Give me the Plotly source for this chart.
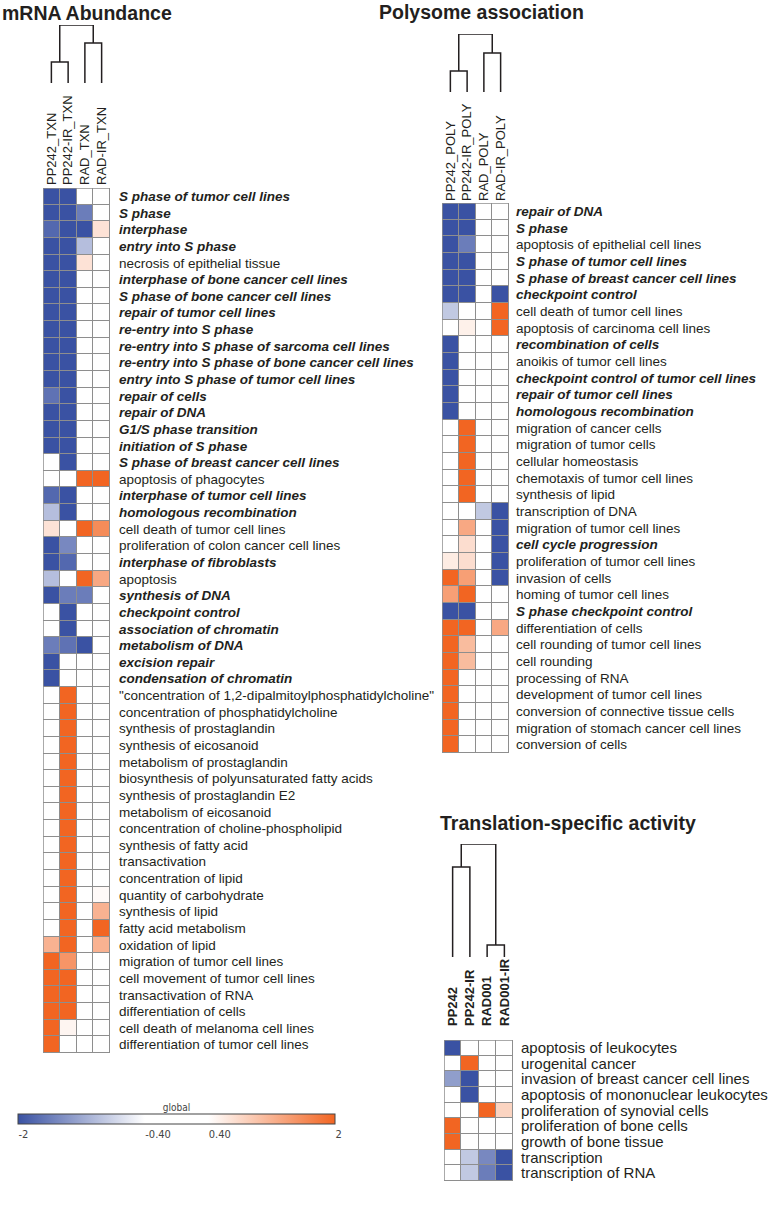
import plotly.graph_objects as go

W, H = 775, 1213

# ---------------- DATA ----------------
mrna_cols = ["PP242_TXN", "PP242-IR_TXN", "RAD_TXN", "RAD-IR_TXN"]
mrna_rows = [
    "S phase of tumor cell lines", "S phase", "interphase", "entry into S phase",
    "necrosis of epithelial tissue", "interphase of bone cancer cell lines",
    "S phase of bone cancer cell lines", "repair of tumor cell lines", "re-entry into S phase",
    "re-entry into S phase of sarcoma cell lines", "re-entry into S phase of bone cancer cell lines",
    "entry into S phase of tumor cell lines", "repair of cells", "repair of DNA",
    "G1/S phase transition", "initiation of S phase", "S phase of breast cancer cell lines",
    "apoptosis of phagocytes", "interphase of tumor cell lines", "homologous recombination",
    "cell death of tumor cell lines", "proliferation of colon cancer cell lines",
    "interphase of fibroblasts", "apoptosis", "synthesis of DNA", "checkpoint control",
    "association of chromatin", "metabolism of DNA", "excision repair", "condensation of chromatin",
    "\"concentration of 1,2-dipalmitoylphosphatidylcholine\"", "concentration of phosphatidylcholine",
    "synthesis of prostaglandin", "synthesis of eicosanoid", "metabolism of prostaglandin",
    "biosynthesis of polyunsaturated fatty acids", "synthesis of prostaglandin E2",
    "metabolism of eicosanoid", "concentration of choline-phospholipid", "synthesis of fatty acid",
    "transactivation", "concentration of lipid", "quantity of carbohydrate", "synthesis of lipid",
    "fatty acid metabolism", "oxidation of lipid", "migration of tumor cell lines",
    "cell movement of tumor cell lines", "transactivation of RNA", "differentiation of cells",
    "cell death of melanoma cell lines", "differentiation of tumor cell lines",
]
mrna_bold = [1, 1, 1, 1, 0, 1, 1, 1, 1, 1, 1, 1, 1, 1, 1, 1, 1, 0, 1, 1, 0, 0, 1, 0, 1, 1, 1, 1, 1, 1,
             0, 0, 0, 0, 0, 0, 0, 0, 0, 0, 0, 0, 0, 0, 0, 0, 0, 0, 0, 0, 0, 0]
mrna_pp242 = [-2.6, -2.5, -1.8, -2.4, -2.3, -2.4, -2.4, -2.3, -2.2, -2.2, -2.2, -2.3, -1.7, -2.2,
              -2.1, -2.0, 0, 0, -1.8, -1.0, 0.7, -2.1, -2.2, -1.0, -2.0, 0, 0, -1.6, -2.0, -2.0,
              0, 0, 0, 0, 0, 0, 0, 0, 0, 0, 0, 0, 0, 0, 0, 1.2, 2.2, 2.1, 2.0, 2.1, 2.1, 2.0]
mrna_pp242ir = [-2.4, -2.3, -2.2, -2.2, -2.1, -2.2, -2.2, -2.3, -2.1, -2.0, -2.0, -2.2, -2.2, -2.3,
                -2.1, -2.1, -2.0, 0, -2.1, -2.0, 0, -1.5, -1.8, 0, -1.6, -2.1, -2.0, -1.7, 0, 0,
                2.2, 2.1, 2.1, 2.2, 2.0, 2.1, 2.0, 2.1, 2.0, 2.1, 2.0, 2.1, 2.1, 2.1, 2.0, 2.1,
                1.5, 2.0, 2.0, 2.0, 0.5, 0]
mrna_rad = [0, -1.6, -2.0, -1.0, 0.7, 0, 0, 0, 0, 0, 0, 0, 0, 0, 0, 0, 0, 2.2, 0, 0, 2.1, 0, 0,
            2.0, -1.6, 0, 0, -2.0, 0, 0, 0, 0, 0, 0, 0, 0, 0, 0, 0, 0, 0, 0, 0, 0, 0, 0, 0, 0,
            0, 0, 0, 0]
mrna_radir = [0, 0, 0.7, 0, 0, 0, 0, 0, 0, 0, 0, 0, 0, 0, 0, 0, 0, 2.1, 0, 0, 1.6, 0, 0, 1.3, 0,
              0, 0, 0, 0, 0, 0, 0, 0, 0, 0, 0, 0, 0, 0, 0, 0, 0, 0.45, 1.2, 2.1, 1.2, 0, 0, 0, 0,
              0, 0]
mrna_links = [21, 40, 58]   # PP242 pair, RAD pair, root

poly_cols = ["PP242_POLY", "PP242-IR_POLY", "RAD_POLY", "RAD-IR_POLY"]
poly_rows = [
    "repair of DNA", "S phase", "apoptosis of epithelial cell lines", "S phase of tumor cell lines",
    "S phase of breast cancer cell lines", "checkpoint control", "cell death of tumor cell lines",
    "apoptosis of carcinoma cell lines", "recombination of cells", "anoikis of tumor cell lines",
    "checkpoint control of tumor cell lines", "repair of tumor cell lines", "homologous recombination",
    "migration of cancer cells", "migration of tumor cells", "cellular homeostasis",
    "chemotaxis of tumor cell lines", "synthesis of lipid", "transcription of DNA",
    "migration of tumor cell lines", "cell cycle progression", "proliferation of tumor cell lines",
    "invasion of cells", "homing of tumor cell lines", "S phase checkpoint control",
    "differentiation of cells", "cell rounding of tumor cell lines", "cell rounding",
    "processing of RNA", "development of tumor cell lines", "conversion of connective tissue cells",
    "migration of stomach cancer cell lines", "conversion of cells",
]
poly_bold = [1, 1, 0, 1, 1, 1, 0, 0, 1, 0, 1, 1, 1, 0, 0, 0, 0, 0, 0, 0, 1, 0, 0, 0, 1,
             0, 0, 0, 0, 0, 0, 0, 0]
poly_pp242 = [-2.4, -2.3, -2.2, -2.3, -2.2, -2.1, -0.9, 0, -2.1, -2.0, -2.0, -2.0, -2.0, 0, 0, 0,
              0, 0, 0, 0, 0, 0.6, 2.0, 1.4, -2.0, 2.0, 2.0, 2.0, 2.0, 2.0, 2.0, 2.0, 2.0]
poly_pp242ir = [-2.3, -2.2, -1.6, -2.1, -2.1, -2.0, 0, 0.55, 0, 0, 0, 0, 0, 2.0, 2.0, 2.0, 2.0,
                2.0, 0, 1.3, 0.75, 0.75, 1.4, 2.0, -2.0, 2.0, 1.1, 1.1, 0, 0, 0, 0, 0]
poly_rad = [0, 0, 0, 0, 0, 0, 0, 0, 0, 0, 0, 0, 0, 0, 0, 0, 0, 0, -0.9, 0, 0, 0, 0, 0, 0, 0,
            0, 0, 0, 0, 0, 0, 0]
poly_radir = [0, 0, 0, 0, 0, -2.0, 2.0, 2.0, 0, 0, 0, 0, 0, 0, 0, 0, 0, 0, -2.0, -2.0, -2.0,
              -2.0, -2.0, 0, 0, 1.3, 0, 0, 0, 0, 0, 0, 0]
poly_links = [21, 39, 58]

trans_cols = ["PP242", "PP242-IR", "RAD001", "RAD001-IR"]
trans_rows = [
    "apoptosis of leukocytes", "urogenital cancer", "invasion of breast cancer cell lines",
    "apoptosis of mononuclear leukocytes", "proliferation of synovial cells",
    "proliferation of bone cells", "growth of bone tissue", "transcription", "transcription of RNA",
]
trans_pp242 = [-2.1, 0, -1.3, 0, 0, 2.0, 2.0, 0, 0]
trans_pp242ir = [0, 2.0, -2.1, -2.0, 0, 0, 0, -0.9, -0.9]
trans_rad = [0, 0, 0, 0, 2.0, 0, 0, -1.5, -1.6]
trans_radir = [0, 0, 0, 0, 0.85, 0, 0, -2.0, -2.1]
trans_links = [90, 12, 113]

cbar_ticks = [-2, -0.4, 0.4, 2]
cbar_ticktext = ["-2", "-0.40", "0.40", "2"]

# ---------------- STYLE ----------------
BLUE = "#3a52a3"
ORANGE = "#f26522"
GRID = "#8e8e8e"
TXT = "#231f20"
FONT = "Liberation Sans, Arial, sans-serif"
NARROW = "Liberation Sans Narrow, DejaVu Sans Condensed, sans-serif"
colorscale = [[0.0, BLUE], [0.4, "#ffffff"], [0.6, "#ffffff"], [1.0, ORANGE]]


def fx(p):
    return p / W


def fy(p):
    return 1 - p / H


def fmt(label, bold):
    return f"<b><i>{label}</i></b>" if bold else label


fig = go.Figure()
layout = {}
shapes = []

panels = [
    dict(cols=mrna_cols, rows=mrna_rows, bold=mrna_bold,
         z=[mrna_pp242, mrna_pp242ir, mrna_rad, mrna_radir], links=mrna_links,
         hx=(43, 110), hy=(188, 1053), dy=(83, 25), colbold=False,
         rowsize=13.5, colstand=2, rowstand=8),
    dict(cols=poly_cols, rows=poly_rows, bold=poly_bold,
         z=[poly_pp242, poly_pp242ir, poly_rad, poly_radir], links=poly_links,
         hx=(442, 509), hy=(203, 753), dy=(92, 34), colbold=False,
         rowsize=13.5, colstand=1, rowstand=6),
    dict(cols=trans_cols, rows=trans_rows, bold=[0] * len(trans_rows),
         z=[trans_pp242, trans_pp242ir, trans_rad, trans_radir], links=trans_links,
         hx=(444, 513), hy=(1040, 1181), dy=(957, 844), colbold=True,
         rowsize=15, colstand=13, rowstand=7),
]

ax = 1
for i, p in enumerate(panels):
    n = len(p["rows"])
    zrows = [[p["z"][c][r] for c in range(4)] for r in range(n)]
    hxa, hya = f"x{ax}", f"y{ax}"
    dxa, dya = f"x{ax+1}", f"y{ax+1}"
    hk = "" if ax == 1 else str(ax)
    dk = str(ax + 1)
    trace = go.Heatmap(
        z=zrows, x=list(range(4)), y=list(range(n)), xaxis=hxa, yaxis=hya,
        zmin=-2, zmax=2, colorscale=colorscale, xgap=1, ygap=1, hoverinfo="skip",
        showscale=(i == 0),
    )
    if i == 0:
        trace.colorbar = dict(
            orientation="h", x=fx(18), xanchor="left", y=fy(1103), yanchor="top",
            len=317, lenmode="pixels", thickness=10, thicknessmode="pixels",
            xpad=0, ypad=0, outlinewidth=1, outlinecolor="#444",
            tickvals=cbar_ticks, ticktext=cbar_ticktext, ticks="",
            ticklabelposition="outside right",
            tickfont=dict(size=11, family=NARROW, color="#444"),
            title=dict(text="global", side="top", font=dict(size=10, family=NARROW, color="#444")),
        )
    fig.add_trace(trace)

    cf = dict(size=13, family=FONT, color=TXT)
    if p["colbold"]:
        cf["weight"] = "bold"
    layout["xaxis" + hk] = dict(
        domain=[fx(p["hx"][0]), fx(p["hx"][1])], range=[-0.5, 3.5], anchor=hya, side="top",
        tickvals=list(range(4)), ticktext=p["cols"], tickangle=-90, ticks="",
        ticklabelstandoff=p["colstand"],
        showgrid=False, zeroline=False, showline=False, tickfont=cf, fixedrange=True,
    )
    layout["yaxis" + hk] = dict(
        domain=[fy(p["hy"][1]), fy(p["hy"][0])], range=[n - 0.5, -0.5], anchor=hxa, side="right",
        tickvals=list(range(n)), ticktext=[fmt(r, b) for r, b in zip(p["rows"], p["bold"])],
        ticks="", ticklabelstandoff=p["rowstand"],
        showgrid=False, zeroline=False, showline=False, fixedrange=True,
        tickfont=dict(size=p["rowsize"], family=FONT, color=TXT),
    )
    # grey background showing through the cell gaps, and the outer frame
    shapes.append(dict(type="rect", xref=hxa, yref=hya, x0=-0.5, x1=3.5, y0=-0.5, y1=n - 0.5,
                       fillcolor=GRID, line=dict(width=0), layer="below"))
    shapes.append(dict(type="rect", xref=hxa, yref=hya, x0=-0.5, x1=3.5, y0=-0.5, y1=n - 0.5,
                       line=dict(color=GRID, width=1.5), layer="above"))

    # dendrogram
    h1, h2, h3 = p["links"]
    xs = [0, 0, 1, 1, None, 2, 2, 3, 3, None, 0.5, 0.5, 2.5, 2.5]
    ys = [0, h1, h1, 0, None, 0, h2, h2, 0, None, h1, h3, h3, h2]
    fig.add_trace(go.Scatter(x=xs, y=ys, xaxis=dxa, yaxis=dya, mode="lines",
                             line=dict(color=TXT, width=1.5), hoverinfo="skip", showlegend=False))
    layout["xaxis" + dk] = dict(domain=[fx(p["hx"][0]), fx(p["hx"][1])], range=[-0.5, 3.5],
                                anchor=dya, visible=False, fixedrange=True)
    layout["yaxis" + dk] = dict(domain=[fy(p["dy"][0]), fy(p["dy"][1])], range=[0, h3],
                                anchor=dxa, visible=False, fixedrange=True)
    ax += 2

titles = [
    ("mRNA Abundance", 0, 13),
    ("Polysome association", 377, 12),
    ("Translation-specific activity", 438, 823),
]
annotations = [
    dict(text=f"<b>{t}</b>", x=fx(x), y=fy(y), xref="paper", yref="paper", xanchor="left",
         yanchor="middle", showarrow=False, font=dict(size=19.5, family=FONT, color=TXT))
    for t, x, y in titles
]

fig.update_layout(
    width=W, height=H, margin=dict(l=0, r=0, t=0, b=0, pad=0),
    paper_bgcolor="white", plot_bgcolor="white", showlegend=False,
    shapes=shapes, annotations=annotations, **layout,
)

fig.write_html("out.html", config={"displayModeBar": False},
               post_script="document.body.style.margin='0';")
